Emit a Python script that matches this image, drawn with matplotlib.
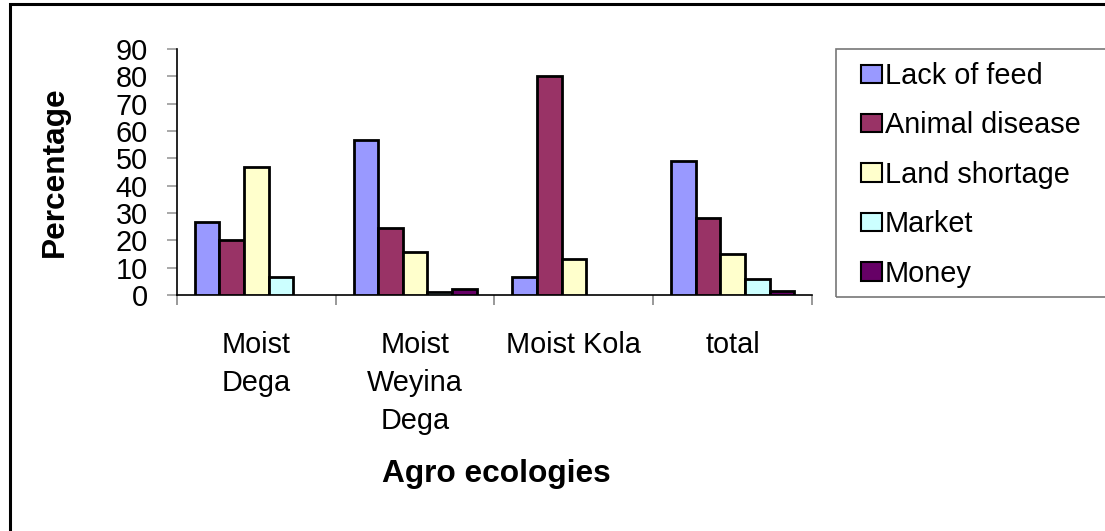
import numpy as np
import matplotlib
matplotlib.use("Agg")
import matplotlib.pyplot as plt
from matplotlib.patches import Rectangle, Patch

plt.rcParams["font.family"] = ["Liberation Sans", "DejaVu Sans"]

# --- datos ---
ecologias = ["Moist\nDega", "Moist\nWeyina\nDega", "Moist Kola", "total"]
causas = ["Lack of feed", "Animal disease", "Land shortage", "Market", "Money"]
lack_of_feed = [26.7, 56.7, 6.7, 49.0]
animal_disease = [20.0, 24.4, 80.0, 28.3]
land_shortage = [46.7, 15.6, 13.3, 15.0]
market = [6.7, 1.2, 0.0, 5.9]
money = [0.0, 2.2, 0.0, 1.6]
yticks = list(range(0, 100, 10))

series = [lack_of_feed, animal_disease, land_shortage, market, money]
colores = ["#9999FF", "#993366", "#FFFFCC", "#CCFFFF", "#660066"]

W, H = 1105, 531
FS = 20.8
fig = plt.figure(figsize=(W / 100, H / 100), dpi=100)
ax = fig.add_axes([177 / W, 1 - 295 / H, 635 / W, 246 / H])

x = np.arange(len(ecologias))
ancho = 0.155
for j, (vals, col) in enumerate(zip(series, colores)):
    vals = np.array(vals)
    mask = vals > 0  # las barras en cero no se dibujan
    ax.bar(x[mask] + (j - 2) * ancho, vals[mask], width=ancho, color=col,
           edgecolor="black", linewidth=2.0, zorder=3)

ax.set_xlim(-0.5, len(ecologias) - 0.5)
ax.set_ylim(0, 90)
ax.set_yticks(yticks)
ax.tick_params(axis="y", direction="out", length=7, width=1.2, color="#999999",
               labelsize=FS, pad=14)
ax.set_xticks(x)
ax.set_xticklabels(ecologias, fontsize=FS, linespacing=1.45)
ax.tick_params(axis="x", which="major", length=0, pad=26)
ax.set_xticks(np.arange(-0.5, len(ecologias)), minor=True)
ax.tick_params(axis="x", which="minor", direction="out", length=7, width=1.2,
               color="#888888")

for s in ["top", "right"]:
    ax.spines[s].set_visible(False)
for s in ["left", "bottom"]:
    ax.spines[s].set_linewidth(1.2)

# etiquetas de los ejes
fig.text(55 / W, 1 - 172 / H, "Percentage", rotation=90, fontsize=22.8,
         fontweight="bold", ha="center", va="center")
fig.text(496 / W, 1 - 474 / H, "Agro ecologies", fontsize=22.8,
         fontweight="bold", ha="center", va="center")

# leyenda con marco propio
fig.patches.append(Rectangle((836 / W, 1 - 297 / H), 300 / W, 248 / H,
                             transform=fig.transFigure, fill=False,
                             edgecolor="#777777", linewidth=1.2))
handles = [Patch(facecolor=c, edgecolor="black", linewidth=1.5) for c in colores]
fig.legend(handles, causas, loc="upper left",
           bbox_to_anchor=(861 / W, 1 - 62 / H), frameon=False, fontsize=FS,
           handlelength=0.72, handleheight=0.6, handletextpad=0.1,
           labelspacing=0.74, borderpad=0, borderaxespad=0)

# marco exterior
fig.patches.append(Rectangle((9.5 / W, -0.1), 1.2, 1 - 3.5 / H + 0.1,
                             transform=fig.transFigure, fill=False,
                             edgecolor="black", linewidth=2.2))

fig.savefig("out.png", dpi=100)
